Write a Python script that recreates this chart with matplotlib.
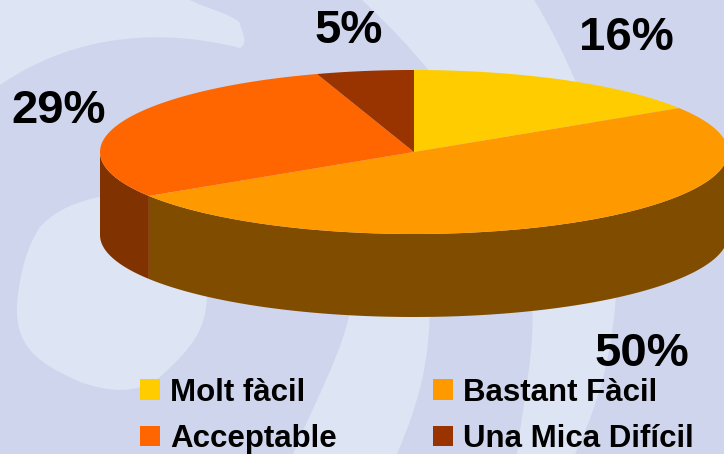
import numpy as np
import matplotlib
import matplotlib.pyplot as plt
from matplotlib.patches import Patch, PathPatch, Polygon
from matplotlib.path import Path

matplotlib.use('Agg')

categories = ['Molt fàcil', 'Bastant Fàcil', 'Acceptable', 'Una Mica Difícil']
values = [16, 50, 29, 5]
labels = ['16%', '50%', '29%', '5%']
colours = ['#FFCC00', '#FF9900', '#FF6600', '#993300']

label_x = [626, 642, 59, 349]
label_y = [38, 354, 111, 31]

# pie geometry in pixels
cx, cy = 414, 152
rx, ry = 314, 82
depth = 83


def rim(start, end, drop=0):
    # angles are clockwise from the top of the pie, in degrees
    t = np.radians(np.linspace(start, end, 200))
    return np.column_stack([cx + rx * np.sin(t), cy + drop - ry * np.cos(t)])


def blob(ax, verts, codes):
    ax.add_patch(PathPatch(Path(verts, codes), facecolor='#DDE4F3', edgecolor='none', zorder=1))


fig = plt.figure(figsize=(7.24, 4.54), dpi=100, facecolor='#CFD5ED')
ax = fig.add_axes([0, 0, 1, 1])
ax.set_xlim(0, 724)
ax.set_ylim(454, 0)
ax.axis('off')

# background swooshes
M, L, C, Z = Path.MOVETO, Path.LINETO, Path.CURVE4, Path.CLOSEPOLY
blob(ax,
     [(0, 0), (190, 0), (205, 8), (232, 14), (240, 23), (240, 30), (250, 42), (240, 48),
      (170, 30), (80, 30), (0, 85), (0, 0)],
     [M, L, C, C, C, C, C, C, C, C, C, Z])
blob(ax,
     [(362, 0), (534, 0), (565, 50), (600, 130), (612, 200), (625, 300), (610, 380), (575, 454),
      (517, 454), (525, 390), (535, 350), (532, 300), (520, 200), (470, 100), (362, 0), (362, 0)],
     [M, L, C, C, C, C, C, C, L, C, C, C, C, C, C, Z])
blob(ax,
     [(352, 300), (430, 300), (430, 360), (420, 400), (397, 454), (293, 454), (315, 400), (345, 350), (352, 300)],
     [M, L, C, C, C, L, C, C, C])
blob(ax,
     [(40, 227), (60, 205), (90, 195), (150, 190), (207, 190), (207, 297), (205, 330), (195, 345), (160, 377),
      (135, 395), (110, 392), (80, 382), (35, 362), (15, 345), (17, 304), (20, 270), (28, 245), (40, 227)],
     [M, C, C, C, L, L, C, C, C, C, C, C, C, C, C, C, C, C])

edges = np.cumsum([0] + values) / sum(values) * 360

# side wall: only the front half of the rim can be seen
for i in range(len(values)):
    start = max(edges[i], 90)
    end = min(edges[i + 1], 270)
    if start < end:
        top = rim(start, end)
        bottom = rim(start, end, depth)[::-1]
        wall = tuple(0.5 * c for c in matplotlib.colors.to_rgb(colours[i]))
        ax.add_patch(Polygon(np.vstack([top, bottom]), facecolor=wall, edgecolor='none', zorder=2))

# top of the pie
for i in range(len(values)):
    verts = np.vstack([[(cx, cy)], rim(edges[i], edges[i + 1])])
    ax.add_patch(Polygon(verts, facecolor=colours[i], edgecolor='none', zorder=3))

for i in range(len(labels)):
    ax.text(label_x[i], label_y[i], labels[i], family='Liberation Sans', weight='bold', fontsize=34,
            ha='center', va='center', color='black', zorder=4)

handles = [Patch(facecolor=c, edgecolor='none') for c in colours]
# matplotlib fills columns first, so the order gives the picture's rows
order = [0, 2, 1, 3]
ax.legend([handles[i] for i in order], [categories[i] for i in order], ncol=2, frameon=False,
          loc='lower left', bbox_to_anchor=(140 / 724, 0.0), borderpad=0, borderaxespad=0,
          handlelength=0.64, handleheight=0.64, handletextpad=0.32, labelspacing=0.52, columnspacing=3.08,
          prop={'family': 'Liberation Sans', 'weight': 'bold', 'size': 22.5})

fig.savefig('out.png', dpi=100, facecolor=fig.get_facecolor())
